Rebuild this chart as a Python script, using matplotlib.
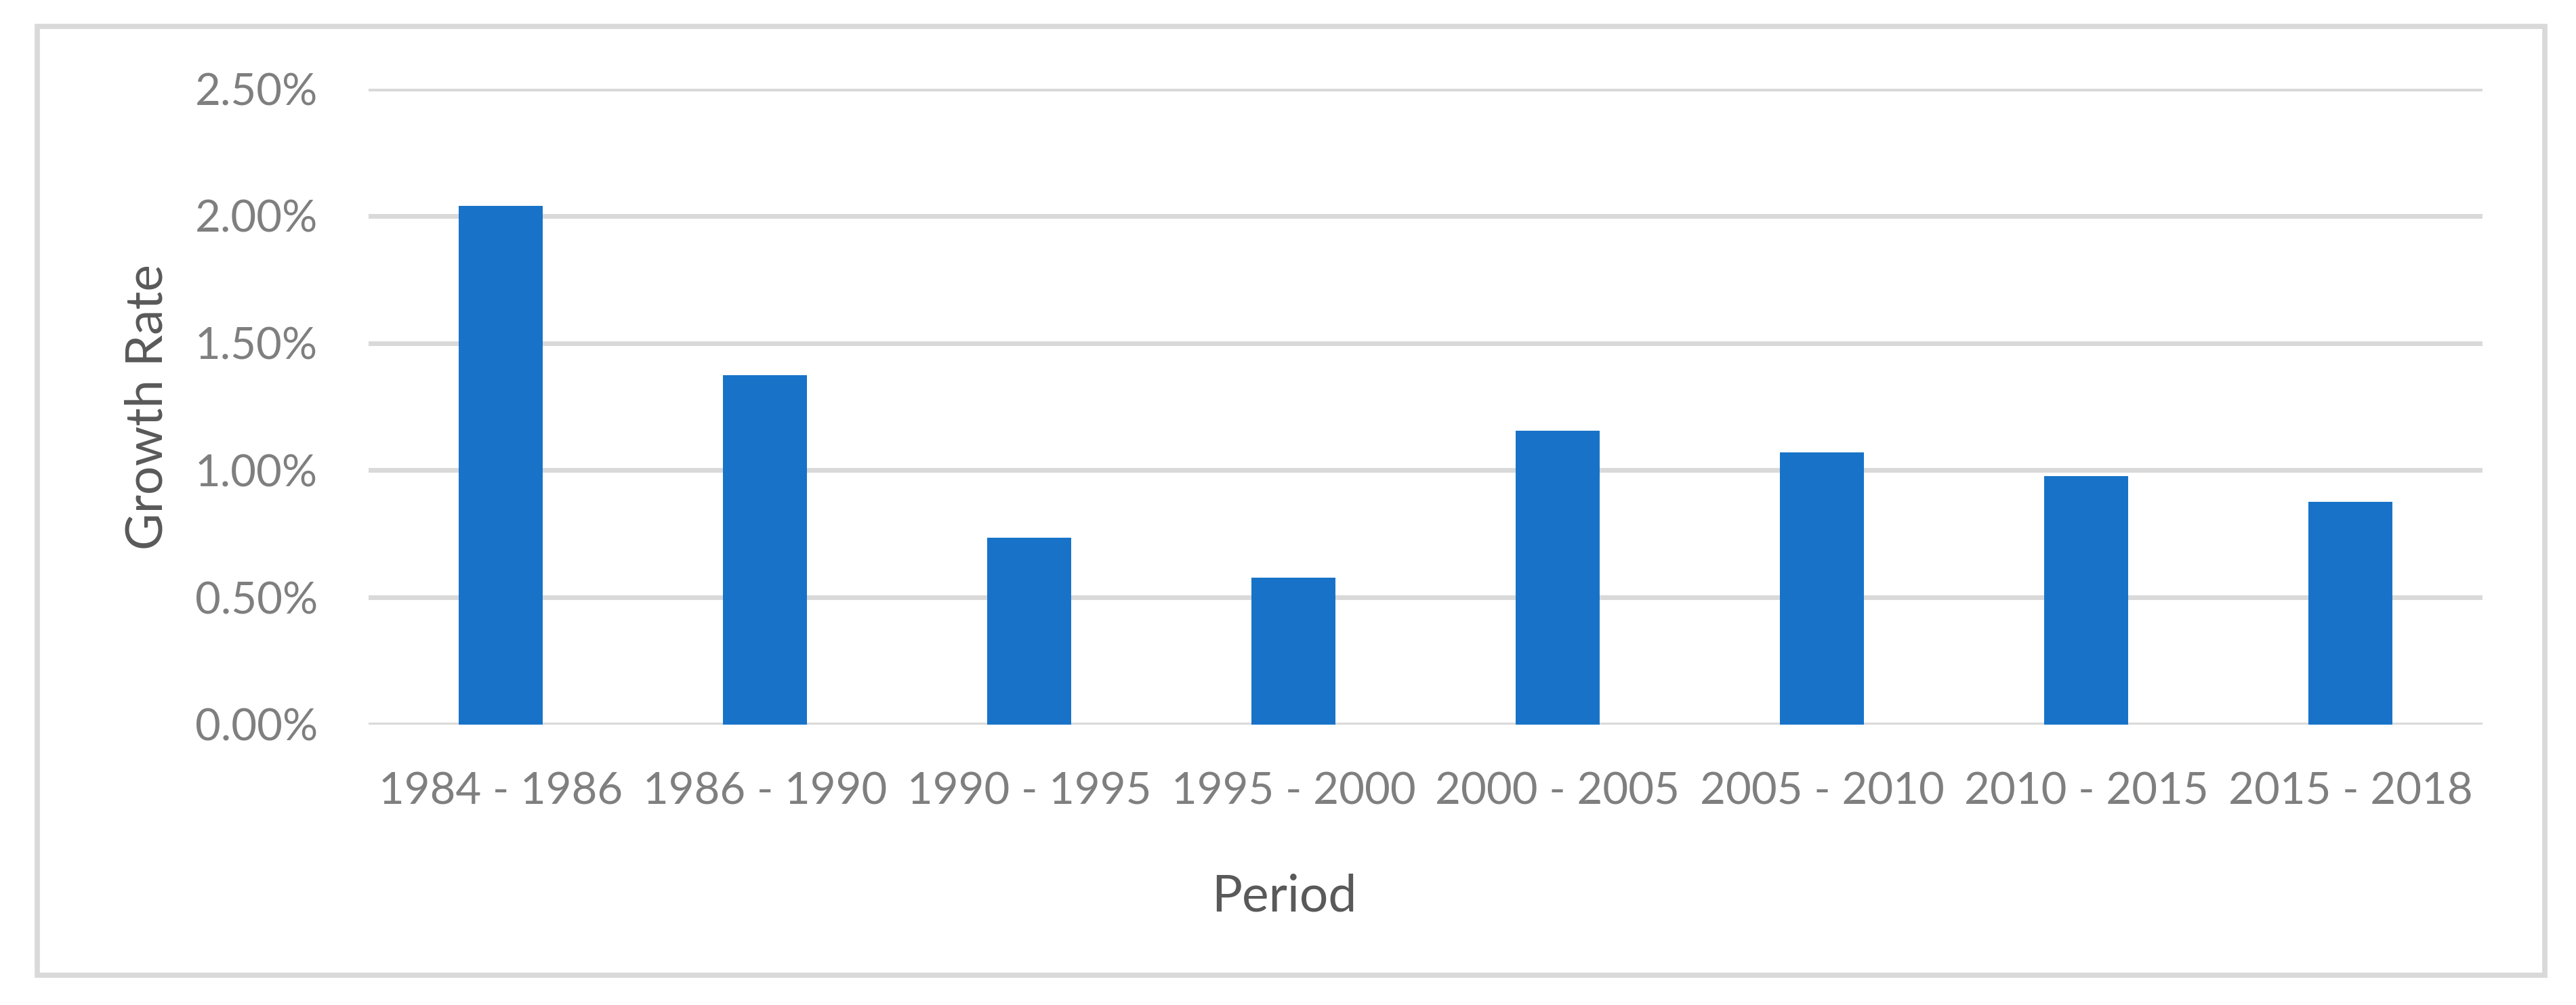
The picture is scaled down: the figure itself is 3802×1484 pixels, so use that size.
import numpy as np
import matplotlib
matplotlib.use('Agg')
import matplotlib.pyplot as plt
from matplotlib.patches import Rectangle
from matplotlib.ticker import FuncFormatter

periods = ["1984 - 1986", "1986 - 1990", "1990 - 1995", "1995 - 2000",
           "2000 - 2005", "2005 - 2010", "2010 - 2015", "2015 - 2018"]
growth_rate = [2.04, 1.375, 0.736, 0.579, 1.155, 1.069, 0.976, 0.875]  # percent
y_ticks = [0.0, 0.5, 1.0, 1.5, 2.0, 2.5]

bar_color = '#1873C8'
grid_color = '#D9D9D9'
tick_color = '#7F7F7F'
title_color = '#595959'

plt.rcParams['font.family'] = ['Lato', 'DejaVu Sans']

W, H = 3802, 1484
fig = plt.figure(figsize=(W / 100, H / 100), dpi=100)

# chart area border
fig.patches.append(Rectangle((54.5 / W, 1 - 1440 / H), (3755.5 - 54.5) / W, (1440 - 39) / H,
                             transform=fig.transFigure, fill=False,
                             edgecolor=grid_color, linewidth=5.5))

ax = fig.add_axes([544 / W, 1 - 1070 / H, (3664 - 544) / W, (1070 - 131) / H])

x = np.arange(len(periods))
ax.bar(x, growth_rate, width=0.32, color=bar_color, zorder=3)

ax.set_xlim(-0.5, len(periods) - 0.5)
ax.set_ylim(0, 2.5)
ax.set_yticks(y_ticks)
ax.yaxis.set_major_formatter(FuncFormatter(lambda v, p: f'{v:.2f}%'))
ax.set_xticks(x)
ax.set_xticklabels(periods)

ax.grid(axis='y', color=grid_color, linewidth=5, zorder=0)
for s in ax.spines.values():
    s.set_visible(False)
ax.tick_params(axis='both', length=0, labelsize=47, colors=tick_color)
ax.tick_params(axis='x', pad=50)
ax.tick_params(axis='y', pad=54)

# axis titles
fig.text(1895 / W, 1 - 1346 / H, 'Period', ha='center', va='baseline',
         fontsize=54, color=title_color)
fig.text(183 / W, 1 - 601 / H, 'Growth Rate', ha='left', va='center', rotation=90,
         fontsize=54, color=title_color)

plt.savefig('out.png', dpi=100)
plt.close()
